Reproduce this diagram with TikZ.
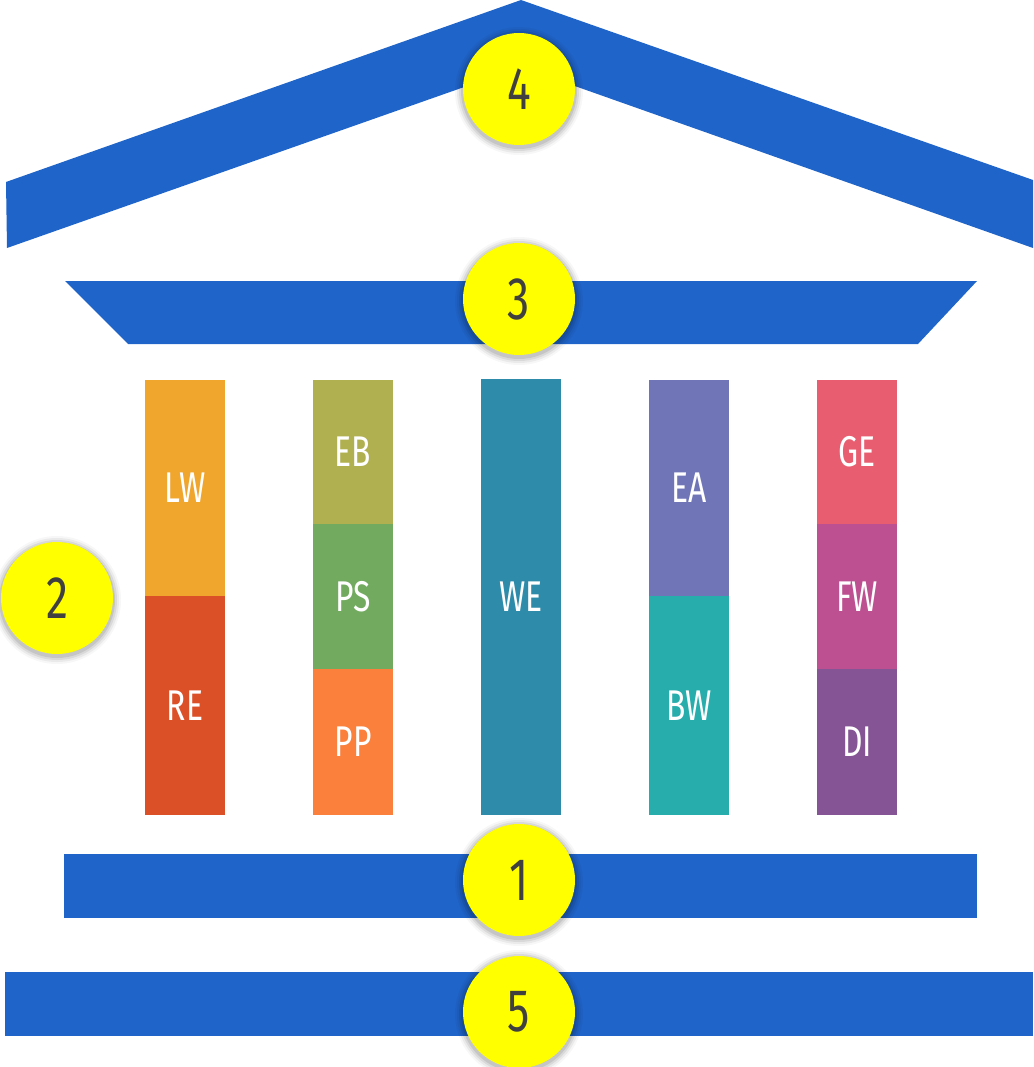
\documentclass[tikz,border=0pt]{standalone}
\usepackage{fontspec}
\newfontfamily\condfont[FakeStretch=0.74]{Fira Sans}
\definecolor{band}{HTML}{1F64C8}
\definecolor{cLW}{HTML}{F0A52D}
\definecolor{cRE}{HTML}{DC5028}
\definecolor{cEB}{HTML}{B0B050}
\definecolor{cPS}{HTML}{72AA60}
\definecolor{cPP}{HTML}{FA803C}
\definecolor{cWE}{HTML}{2E8CAA}
\definecolor{cEA}{HTML}{7075B8}
\definecolor{cBW}{HTML}{28ADAD}
\definecolor{cGE}{HTML}{E85D70}
\definecolor{cFW}{HTML}{BC5090}
\definecolor{cDI}{HTML}{845494}
\definecolor{numtext}{HTML}{404040}
\definecolor{badgefill}{HTML}{FFFF00}
\tikzset{
  seg/.style={fill=#1, draw=none, text=white, font=\condfont\fontsize{43}{43}\selectfont},
  badge/.style={circle, fill=badgefill, minimum size=112pt, inner sep=0pt, text=numtext, font=\condfont\fontsize{60}{60}\selectfont},
}
\begin{document}
\begin{tikzpicture}[x=1pt,y=-1pt]
\useasboundingbox (0,0) rectangle (1033,1067);
% roof
\fill[band] (7,248) -- (6,182) -- (521,0) -- (1033,180) -- (1033,248) -- (521,67) -- cycle;
% band 3
\fill[band] (65,281) -- (977,281) -- (918,344) -- (128,344) -- cycle;
% band 1 and 5
\fill[band] (64,854) rectangle (977,918);
\fill[band] (5,972) rectangle (1033,1036);
% columns
\path[seg=cLW] (145,380) rectangle node (LW) {LW} (225,596);
\path[seg=cRE] (145,596) rectangle node (RE) {RE} (225,815);
\path[seg=cEB] (313,380) rectangle node (EB) {EB} (393,524);
\path[seg=cPS] (313,524) rectangle node (PS) {PS} (393,669);
\path[seg=cPP] (313,669) rectangle node (PP) {PP} (393,815);
\path[seg=cWE] (481,379) rectangle node (WE) {WE} (561,815);
\path[seg=cEA] (649,380) rectangle node (EA) {EA} (729,596);
\path[seg=cBW] (649,596) rectangle node (BW) {BW} (729,815);
\path[seg=cGE] (817,380) rectangle node (GE) {GE} (897,524);
\path[seg=cFW] (817,524) rectangle node (FW) {FW} (897,669);
\path[seg=cDI] (817,669) rectangle node (DI) {DI} (897,815);
% badges with soft shadows
\foreach \cx/\cy in {519/89, 519/299, 57/598, 519/880, 519/1012}{
  \foreach \r/\o in {64/0.03, 62/0.05, 60/0.07, 58/0.09}{
    \fill[black, opacity=\o] (\cx,\cy+2) circle (\r);
  }
}
\node[badge] (n4) at (519,89) {4};
\node[badge] (n3) at (519,299) {3};
\node[badge] (n2) at (57,598) {2};
\node[badge] (n1) at (519,880) {1};
\node[badge] (n5) at (519,1012) {5};
\end{tikzpicture}
\end{document}
